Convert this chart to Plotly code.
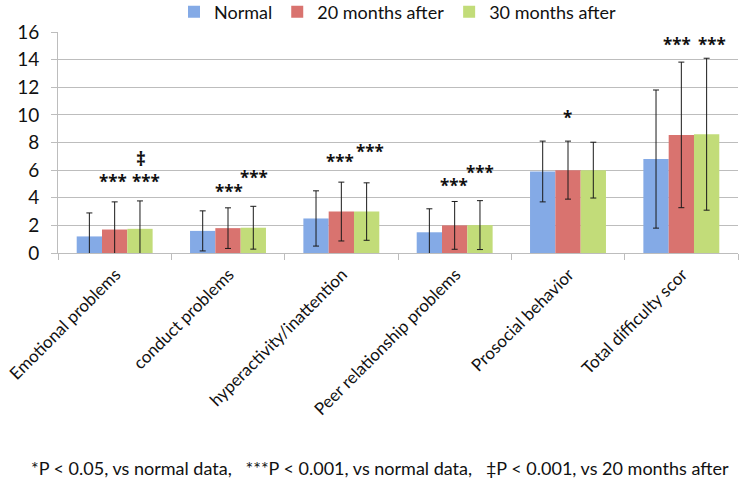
import plotly.graph_objects as go

categories = ["Emotional problems", "conduct problems", "hyperactivity/inattention",
              "Peer relationship problems", "Prosocial behavior", "Total difficulty scor"]
series_names = ["Normal", "20 months after", "30 months after"]
normal_mean = [1.2, 1.6, 2.5, 1.5, 5.9, 6.8]
normal_sd = [1.7, 1.45, 2.0, 1.7, 2.2, 5.0]
m20_mean = [1.7, 1.8, 3.0, 2.0, 6.0, 8.55]
m20_sd = [2.0, 1.47, 2.13, 1.73, 2.1, 5.27]
m30_mean = [1.75, 1.83, 3.0, 2.02, 6.0, 8.6]
m30_sd = [2.02, 1.55, 2.08, 1.77, 2.02, 5.5]

# significance markers
sig_cat = [0, 0, 0, 1, 1, 2, 2, 3, 3, 4, 5, 5]
sig_series = [1, 2, 2, 1, 2, 1, 2, 1, 2, 1, 1, 2]
sig_text = ["***", "***", "‡", "***", "***", "***", "***", "***", "***", "*", "***", "***"]
sig_y = [5.44, 5.44, 7.1, 4.71, 5.73, 6.88, 7.67, 5.17, 6.09, 10.13, 15.4, 15.4]

footnote = "*P < 0.05, vs normal data,   ***P < 0.001, vs normal data,   ‡P < 0.001, vs 20 months after"

colors = ["#84aae6", "#d9736f", "#c2dc79"]
FONT = "Lato, 'Open Sans', sans-serif"
STAR_FONT = "'Open Sans', sans-serif"

fig = go.Figure()
for name, mean, sd, col in zip(series_names, [normal_mean, m20_mean, m30_mean],
                               [normal_sd, m20_sd, m30_sd], colors):
    fig.add_trace(go.Bar(
        x=categories, y=mean, name=name,
        marker=dict(color=col, line=dict(width=0)),
        error_y=dict(type="data", array=sd, visible=True, color="#1a1a1a",
                     thickness=1, width=3),
    ))

# horizontal offset (px) of marker labels relative to the category centre
green_shift = [31, 26, 29, 25, 27, 31]
red_shift = [-2, 1, -1, -1, -1, -4]
for c, s, t, y in zip(sig_cat, sig_series, sig_text, sig_y):
    xs = red_shift[c] if s == 1 else green_shift[c]
    if t == "‡":
        xs = 26
    fig.add_annotation(x=categories[c], y=y, text="<b>" + t + "</b>", showarrow=False,
                       xshift=xs, yshift=-4, yanchor="middle",
                       font=dict(size=17 if t != "‡" else 19, color="#111111",
                                 family=STAR_FONT))

fig.add_annotation(x=0.474, y=0, xref="paper", yref="paper", yshift=-215,
                   yanchor="middle", text=footnote, showarrow=False,
                   font=dict(size=18, color="#111111", family=FONT))

fig.update_layout(
    width=744, height=485,
    margin=dict(l=58, r=6, t=32, b=232, autoexpand=False),
    paper_bgcolor="white", plot_bgcolor="white",
    barmode="group", bargap=0.33, bargroupgap=0,
    font=dict(family=FONT, size=18, color="#111111"),
    showlegend=True,
    legend=dict(orientation="h", x=0.5, xanchor="center", y=0.975, yanchor="middle",
                yref="container", font=dict(size=18), itemwidth=30,
                traceorder="normal", bgcolor="rgba(0,0,0,0)"),
)
fig.update_yaxes(range=[0, 16], dtick=2, showgrid=True, gridcolor="#bdbdbd",
                 gridwidth=1, showline=True, linecolor="#bdbdbd", ticks="outside",
                 ticklen=6, tickcolor="#bdbdbd", zeroline=False, automargin=False,
                 ticklabelstandoff=8, tickfont=dict(size=19))
fig.update_xaxes(showline=True, linecolor="#bdbdbd", ticks="outside", ticklen=6,
                 tickcolor="#bdbdbd", tickson="boundaries", tickangle=-45,
                 ticklabelstandoff=4, ticklabelshift=1,
                 automargin=False, tickfont=dict(size=17))

fig.write_html("out.html", config={"displayModeBar": False},
               post_script="document.body.style.margin='0';document.body.style.padding='0';")
